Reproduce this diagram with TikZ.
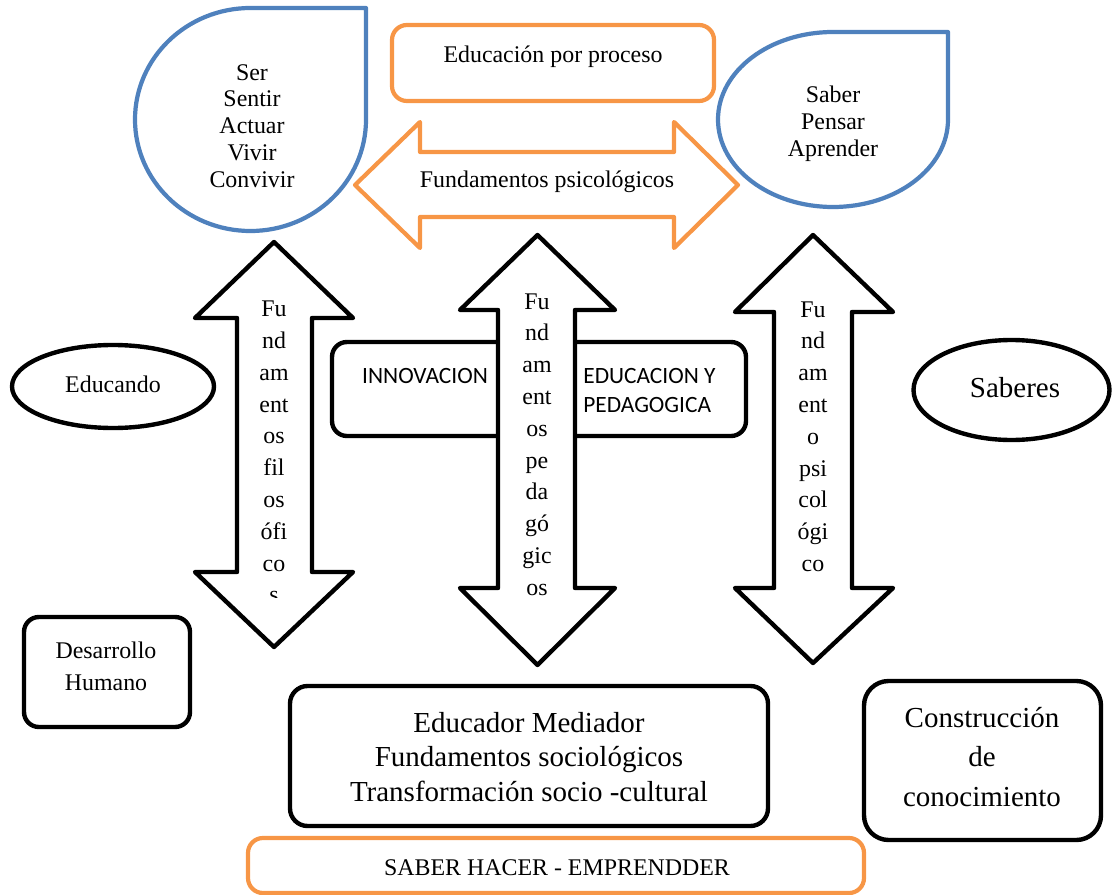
\documentclass[tikz,border=0pt]{standalone}
\usepackage{fontspec}
\setmainfont{Liberation Serif}
\newfontfamily\calibri{Carlito}
\definecolor{dropblue}{HTML}{4F81BD}
\definecolor{accorange}{HTML}{F79646}
\begin{document}
\begin{tikzpicture}[x=0.02cm,y=-0.02cm,line join=round,
  blueline/.style={draw=dropblue,line width=2.4pt},
  orangeline/.style={draw=accorange,line width=2.4pt},
  blackline/.style={draw=black,line width=2.5pt},
  txt/.style={inner sep=0pt,align=center,font=\fontsize{13.6}{15.3}\selectfont},
  bigtxt/.style={inner sep=0pt,align=center,font=\fontsize{16.5}{19.8}\selectfont},
  stacktxt/.style={inner sep=0pt,align=center,font=\fontsize{13.6}{18.1}\selectfont},
  boxtxt/.style={inner sep=0pt,align=left,font=\calibri\fontsize{13.3}{16.4}\selectfont}]
\useasboundingbox (0,0) rectangle (1112,895);

% drop shapes with the values
\draw[blueline,fill=white] (366,8) -- (366,119.5)
  arc[start angle=0,end angle=270,x radius=115.5,y radius=111.5] -- cycle;
\node[txt] (ser) at (252,126) {Ser\\Sentir\\Actuar\\Vivir\\Convivir};
\draw[blueline,fill=white] (948,32) -- (948,119.5)
  arc[start angle=0,end angle=270,x radius=115,y radius=87.5] -- cycle;
\node[txt] (saber) at (833,124) {Saber\\Pensar\\Aprender};

% top banner and horizontal double arrow
\draw[orangeline,rounded corners=8.5pt] (392,25) rectangle (714,101);
\node[txt] (proceso) at (553,57) {Educación por proceso};
\draw[orangeline] (355,185) -- (420,122) -- (420,152) -- (674,152) -- (674,122)
  -- (738,185) -- (674,248) -- (674,217) -- (420,217) -- (420,248) -- cycle;
\node[txt] (psico) at (547,182) {Fundamentos psicológicos};

% innovation box sits behind the central arrow
\draw[blackline,rounded corners=8.5pt] (332,342) rectangle (746,436);
\node[boxtxt] (innov) at (425,376) {INNOVACION};
\node[boxtxt,anchor=west] (edped) at (583,390.5) {EDUCACION Y\\PEDAGOGICA};

% vertical double arrows
\draw[blackline,fill=white] (274,242) -- (353,318) -- (312,318) -- (312,572) -- (353,572)
  -- (274,647) -- (195,572) -- (237,572) -- (237,318) -- (195,318) -- cycle;
\begin{scope}
  \clip (230,230) rectangle (320,597);
  \node[stacktxt] (filo) at (274,452) {Fu\\nd\\am\\ent\\os\\fil\\os\\ófi\\co\\s};
\end{scope}
\draw[blackline,fill=white] (537.5,235) -- (615,310) -- (575,310) -- (575,588) -- (615,588)
  -- (537.5,665) -- (460,588) -- (498,588) -- (498,310) -- (460,310) -- cycle;
\node[stacktxt] (peda) at (537,444.5) {Fu\\nd\\am\\ent\\os\\pe\\da\\gó\\gic\\os};
\draw[blackline,fill=white] (813,235) -- (893,312) -- (852,312) -- (852,588) -- (893,588)
  -- (813,663) -- (735,588) -- (774,588) -- (774,312) -- (735,312) -- cycle;
\node[stacktxt] (psic) at (813,436.5) {Fu\\nd\\am\\ent\\o\\psi\\col\\ógi\\co};

% side elements
\draw[blackline] (113,386.5) ellipse[x radius=101,y radius=41.5];
\node[txt] (educando) at (113,384) {Educando};
\draw[blackline] (1011.5,390) ellipse[x radius=98,y radius=50];
\node[bigtxt] (saberes) at (1015,388) {Saberes};
\draw[blackline,rounded corners=8.5pt] (24,617) rectangle (190,727);
\node[txt,font=\fontsize{13.6}{18.1}\selectfont] (desarrollo) at (106,666) {Desarrollo\\Humano};

% bottom boxes
\draw[blackline,rounded corners=10pt] (290,686) rectangle (768,826);
\node[bigtxt] (mediador) at (529,757) {Educador Mediador\\Fundamentos sociológicos\\Transformación socio -cultural};
\draw[blackline,rounded corners=14pt] (864,681) rectangle (1101,840);
\node[bigtxt,font=\fontsize{16.5}{22.7}\selectfont] (constr) at (982,757) {Construcción\\de\\conocimiento};
\draw[orangeline,rounded corners=8.5pt] (248,838) rectangle (864,893);
\node[txt] (hacer) at (557,868) {SABER HACER - EMPRENDDER};
\end{tikzpicture}
\end{document}
